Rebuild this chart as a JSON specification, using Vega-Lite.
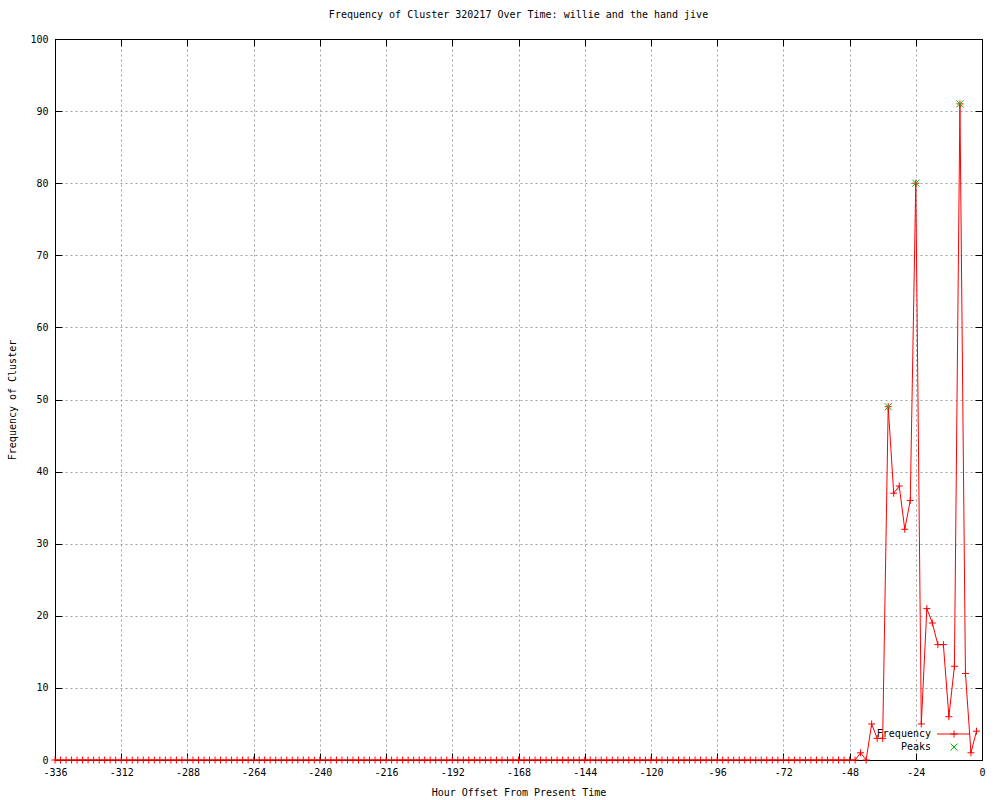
{
  "$schema": "https://vega.github.io/schema/vega-lite/v6.json",
  "width": 927,
  "height": 721,
  "autosize": {"type": "none"},
  "padding": {"left": 55, "top": 39, "right": 18, "bottom": 40},
  "background": "white",
  "title": {"text": "Frequency of Cluster 320217 Over Time: willie and the hand jive", "font": "DejaVu Sans Mono", "fontSize": 10, "fontWeight": "normal", "color": "black", "offset": 14},
  "config": {
    "font": "DejaVu Sans Mono",
    "view": {"stroke": "black", "strokeWidth": 1},
    "axis": {
      "domain": true,
      "domainColor": "black",
      "domainWidth": 1,
      "tickColor": "black",
      "tickSize": -7,
      "tickWidth": 1,
      "labelColor": "black",
      "labelFont": "DejaVu Sans Mono",
      "labelFontSize": 10,
      "titleColor": "black",
      "titleFont": "DejaVu Sans Mono",
      "titleFontSize": 10,
      "titleFontWeight": "normal",
      "gridColor": "#a0a0a0",
      "gridDash": [2, 3],
      "gridOpacity": 1,
      "gridWidth": 1
    },
    "legend": {"labelFont": "DejaVu Sans Mono", "labelFontSize": 10, "labelColor": "black"}
  },
  "datasets": {
    "freq": [
      {"hour": -336, "freq": 0}, {"hour": -334, "freq": 0}, {"hour": -332, "freq": 0}, {"hour": -330, "freq": 0},
      {"hour": -328, "freq": 0}, {"hour": -326, "freq": 0}, {"hour": -324, "freq": 0}, {"hour": -322, "freq": 0},
      {"hour": -320, "freq": 0}, {"hour": -318, "freq": 0}, {"hour": -316, "freq": 0}, {"hour": -314, "freq": 0},
      {"hour": -312, "freq": 0}, {"hour": -310, "freq": 0}, {"hour": -308, "freq": 0}, {"hour": -306, "freq": 0},
      {"hour": -304, "freq": 0}, {"hour": -302, "freq": 0}, {"hour": -300, "freq": 0}, {"hour": -298, "freq": 0},
      {"hour": -296, "freq": 0}, {"hour": -294, "freq": 0}, {"hour": -292, "freq": 0}, {"hour": -290, "freq": 0},
      {"hour": -288, "freq": 0}, {"hour": -286, "freq": 0}, {"hour": -284, "freq": 0}, {"hour": -282, "freq": 0},
      {"hour": -280, "freq": 0}, {"hour": -278, "freq": 0}, {"hour": -276, "freq": 0}, {"hour": -274, "freq": 0},
      {"hour": -272, "freq": 0}, {"hour": -270, "freq": 0}, {"hour": -268, "freq": 0}, {"hour": -266, "freq": 0},
      {"hour": -264, "freq": 0}, {"hour": -262, "freq": 0}, {"hour": -260, "freq": 0}, {"hour": -258, "freq": 0},
      {"hour": -256, "freq": 0}, {"hour": -254, "freq": 0}, {"hour": -252, "freq": 0}, {"hour": -250, "freq": 0},
      {"hour": -248, "freq": 0}, {"hour": -246, "freq": 0}, {"hour": -244, "freq": 0}, {"hour": -242, "freq": 0},
      {"hour": -240, "freq": 0}, {"hour": -238, "freq": 0}, {"hour": -236, "freq": 0}, {"hour": -234, "freq": 0},
      {"hour": -232, "freq": 0}, {"hour": -230, "freq": 0}, {"hour": -228, "freq": 0}, {"hour": -226, "freq": 0},
      {"hour": -224, "freq": 0}, {"hour": -222, "freq": 0}, {"hour": -220, "freq": 0}, {"hour": -218, "freq": 0},
      {"hour": -216, "freq": 0}, {"hour": -214, "freq": 0}, {"hour": -212, "freq": 0}, {"hour": -210, "freq": 0},
      {"hour": -208, "freq": 0}, {"hour": -206, "freq": 0}, {"hour": -204, "freq": 0}, {"hour": -202, "freq": 0},
      {"hour": -200, "freq": 0}, {"hour": -198, "freq": 0}, {"hour": -196, "freq": 0}, {"hour": -194, "freq": 0},
      {"hour": -192, "freq": 0}, {"hour": -190, "freq": 0}, {"hour": -188, "freq": 0}, {"hour": -186, "freq": 0},
      {"hour": -184, "freq": 0}, {"hour": -182, "freq": 0}, {"hour": -180, "freq": 0}, {"hour": -178, "freq": 0},
      {"hour": -176, "freq": 0}, {"hour": -174, "freq": 0}, {"hour": -172, "freq": 0}, {"hour": -170, "freq": 0},
      {"hour": -168, "freq": 0}, {"hour": -166, "freq": 0}, {"hour": -164, "freq": 0}, {"hour": -162, "freq": 0},
      {"hour": -160, "freq": 0}, {"hour": -158, "freq": 0}, {"hour": -156, "freq": 0}, {"hour": -154, "freq": 0},
      {"hour": -152, "freq": 0}, {"hour": -150, "freq": 0}, {"hour": -148, "freq": 0}, {"hour": -146, "freq": 0},
      {"hour": -144, "freq": 0}, {"hour": -142, "freq": 0}, {"hour": -140, "freq": 0}, {"hour": -138, "freq": 0},
      {"hour": -136, "freq": 0}, {"hour": -134, "freq": 0}, {"hour": -132, "freq": 0}, {"hour": -130, "freq": 0},
      {"hour": -128, "freq": 0}, {"hour": -126, "freq": 0}, {"hour": -124, "freq": 0}, {"hour": -122, "freq": 0},
      {"hour": -120, "freq": 0}, {"hour": -118, "freq": 0}, {"hour": -116, "freq": 0}, {"hour": -114, "freq": 0},
      {"hour": -112, "freq": 0}, {"hour": -110, "freq": 0}, {"hour": -108, "freq": 0}, {"hour": -106, "freq": 0},
      {"hour": -104, "freq": 0}, {"hour": -102, "freq": 0}, {"hour": -100, "freq": 0}, {"hour": -98, "freq": 0},
      {"hour": -96, "freq": 0}, {"hour": -94, "freq": 0}, {"hour": -92, "freq": 0}, {"hour": -90, "freq": 0},
      {"hour": -88, "freq": 0}, {"hour": -86, "freq": 0}, {"hour": -84, "freq": 0}, {"hour": -82, "freq": 0},
      {"hour": -80, "freq": 0}, {"hour": -78, "freq": 0}, {"hour": -76, "freq": 0}, {"hour": -74, "freq": 0},
      {"hour": -72, "freq": 0}, {"hour": -70, "freq": 0}, {"hour": -68, "freq": 0}, {"hour": -66, "freq": 0},
      {"hour": -64, "freq": 0}, {"hour": -62, "freq": 0}, {"hour": -60, "freq": 0}, {"hour": -58, "freq": 0},
      {"hour": -56, "freq": 0}, {"hour": -54, "freq": 0}, {"hour": -52, "freq": 0}, {"hour": -50, "freq": 0},
      {"hour": -48, "freq": 0}, {"hour": -46, "freq": 0}, {"hour": -44, "freq": 1}, {"hour": -42, "freq": 0},
      {"hour": -40, "freq": 5}, {"hour": -38, "freq": 3}, {"hour": -36, "freq": 3}, {"hour": -34, "freq": 49},
      {"hour": -32, "freq": 37}, {"hour": -30, "freq": 38}, {"hour": -28, "freq": 32}, {"hour": -26, "freq": 36},
      {"hour": -24, "freq": 80}, {"hour": -22, "freq": 5}, {"hour": -20, "freq": 21}, {"hour": -18, "freq": 19},
      {"hour": -16, "freq": 16}, {"hour": -14, "freq": 16}, {"hour": -12, "freq": 6}, {"hour": -10, "freq": 13},
      {"hour": -8, "freq": 91}, {"hour": -6, "freq": 12}, {"hour": -4, "freq": 1}, {"hour": -2, "freq": 4}
    ],
    "peaks": [
      {"hour": -34, "freq": 49}, {"hour": -24, "freq": 80}, {"hour": -8, "freq": 91}
    ]
  },
  "layer": [
    {
      "data": {"name": "freq"},
      "mark": {"type": "line", "strokeWidth": 1, "interpolate": "linear"},
      "encoding": {
        "x": {
          "field": "hour", "type": "quantitative",
          "scale": {"domain": [-336, 0], "nice": false, "zero": false},
          "axis": {
            "values": [-336, -312, -288, -264, -240, -216, -192, -168, -144, -120, -96, -72, -48, -24, 0],
            "labelExpr": "'' + datum.value",
            "labelPadding": 14,
            "labelFlush": false,
            "labelOverlap": false,
            "grid": true,
            "title": "Hour Offset From Present Time",
            "titlePadding": 10
          }
        },
        "y": {
          "field": "freq", "type": "quantitative",
          "scale": {"domain": [0, 100], "nice": false, "zero": true},
          "axis": {
            "values": [0, 10, 20, 30, 40, 50, 60, 70, 80, 90, 100],
            "labelPadding": 14,
            "labelFlush": false,
            "labelOverlap": false,
            "grid": true,
            "title": "Frequency of Cluster",
            "titlePadding": 12
          }
        },
        "stroke": {
          "datum": "Frequency line",
          "scale": {"domain": ["Frequency line"], "range": ["#ff0000"]},
          "legend": {
            "title": null,
            "orient": "none",
            "legendX": 881.5,
            "legendY": 678,
            "padding": 0,
            "symbolType": "stroke",
            "symbolSize": 1089,
            "symbolStrokeWidth": 1,
            "labelColor": "transparent",
            "labelFontSize": 1
          }
        }
      }
    },
    {
      "data": {"name": "freq"},
      "mark": {"type": "point", "filled": false, "strokeWidth": 1, "size": 49, "opacity": 1},
      "encoding": {
        "x": {
          "field": "hour", "type": "quantitative",
          "axis": {
            "orient": "top",
            "values": [-336, -312, -288, -264, -240, -216, -192, -168, -144, -120, -96, -72, -48, -24, 0],
            "labels": false, "grid": false, "title": null, "zindex": 1
          }
        },
        "y": {
          "field": "freq", "type": "quantitative",
          "axis": {
            "orient": "right",
            "values": [0, 10, 20, 30, 40, 50, 60, 70, 80, 90, 100],
            "labels": false, "grid": false, "title": null, "zindex": 1
          }
        },
        "color": {
          "datum": "Frequency",
          "scale": {"domain": ["Frequency", "Peaks"], "range": ["#ff0000", "#00c000"]},
          "legend": {
            "title": null,
            "orient": "none",
            "legendX": 894,
            "legendY": 690,
            "padding": 0,
            "rowPadding": 1,
            "symbolSize": 49,
            "symbolStrokeWidth": 1,
            "labelAlign": "right",
            "labelOffset": -28,
            "labelFontSize": 10
          }
        },
        "shape": {
          "datum": "Frequency",
          "scale": {"domain": ["Frequency", "Peaks"], "range": ["M-1,0L1,0M0,-1L0,1", "M-1,-1L1,1M-1,1L1,-1"]}
        }
      }
    },
    {
      "data": {"name": "peaks"},
      "mark": {"type": "point", "filled": false, "strokeWidth": 1, "size": 49, "opacity": 1},
      "encoding": {
        "x": {"field": "hour", "type": "quantitative", "axis": null},
        "y": {"field": "freq", "type": "quantitative", "axis": null},
        "color": {"datum": "Peaks"},
        "shape": {"datum": "Peaks"}
      }
    }
  ],
  "resolve": {"axis": {"x": "independent", "y": "independent"}}
}
